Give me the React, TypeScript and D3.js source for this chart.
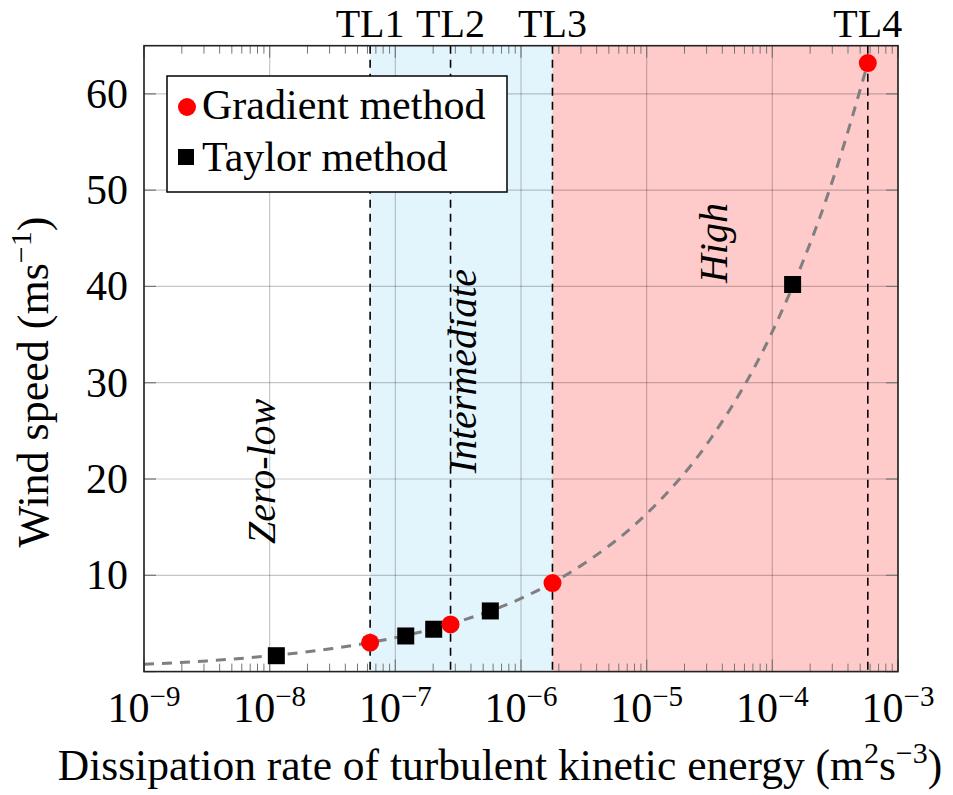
import React from "react";
import * as d3 from "d3";

// ---------- data ----------
const gradientEps = [6.3e-8, 2.75e-7, 1.78e-6, 5.75e-4];
const gradientSpeed = [3.0, 4.9, 9.2, 63.2];

const taylorEps = [1.13e-8, 1.21e-7, 2.02e-7, 5.7e-7, 1.45e-4];
const taylorSpeed = [1.65, 3.7, 4.4, 6.3, 40.2];

// dashed fitted curve
const fitEps = [1e-9, 3.16e-9, 1e-8, 3.16e-8, 1e-7, 3.16e-7, 1e-6, 3.16e-6, 1e-5, 3.16e-5, 1e-4, 3.16e-4, 5.75e-4];
const fitSpeed = [0.76, 1.11, 1.64, 2.4, 3.53, 5.18, 7.6, 11.2, 16.4, 24.0, 35.3, 51.8, 63.2];

const thresholdEps = [6.3e-8, 2.75e-7, 1.78e-6, 5.75e-4];
const thresholdLabels = ["TL1", "TL2", "TL3", "TL4"];

const regionNames = ["Zero-low", "Intermediate", "High"];
const regionStart = [1e-9, 6.3e-8, 1.78e-6];
const regionEnd = [6.3e-8, 1.78e-6, 1e-3];
const regionColors = ["none", "#e3f5fc", "#ffcaca"];
const regionLabelEps = [1.1e-8, 4.4e-7, 4.36e-5];
const regionLabelSpeed = [20.8, 31.2, 44.5];

const yTicks = [10, 20, 30, 40, 50, 60];
const xTickExponents = [-9, -8, -7, -6, -5, -4, -3];

const legendLabels = ["Gradient method", "Taylor method"];

// ---------- layout ----------
const W = 953;
const H = 795;
const left = 144;
const right = 898;
const top = 45.7;
const bottom = 671.6;
const FONT = "'Liberation Serif', 'Times New Roman', serif";

export default function App() {
  const x = d3.scaleLog().domain([1e-9, 1e-3]).range([left, right]);
  const y = d3.scaleLinear().domain([0, 65]).range([bottom, top]);

  const minorTicks: number[] = [];
  for (let e = -9; e < -3; e++) {
    for (let m = 2; m <= 9; m++) minorTicks.push(m * Math.pow(10, e));
  }

  const line = d3
    .line<number>()
    .x((_, i) => x(fitEps[i]))
    .y((d) => y(d))
    .curve(d3.curveMonotoneX);

  const gridColor = "rgba(0,0,0,0.22)";

  return (
    <svg
      width={W}
      height={H}
      style={{ position: "absolute", left: 0, top: 0, background: "#fff" }}
      fontFamily={FONT}
    >
      <defs>
        <clipPath id="plotclip">
          <rect x={left} y={top} width={right - left} height={bottom - top} />
        </clipPath>
      </defs>

      {/* region fills */}
      {regionNames.map((n, i) =>
        regionColors[i] === "none" ? null : (
          <rect
            key={n}
            x={x(regionStart[i])}
            y={top}
            width={x(regionEnd[i]) - x(regionStart[i])}
            height={bottom - top}
            fill={regionColors[i]}
          />
        )
      )}

      {/* grid */}
      {xTickExponents.map((e) => (
        <line
          key={"gx" + e}
          x1={x(Math.pow(10, e))}
          x2={x(Math.pow(10, e))}
          y1={top}
          y2={bottom}
          stroke={gridColor}
          strokeWidth={1.2}
        />
      ))}
      {yTicks.map((t) => (
        <line
          key={"gy" + t}
          x1={left}
          x2={right}
          y1={y(t)}
          y2={y(t)}
          stroke={gridColor}
          strokeWidth={1.2}
        />
      ))}

      {/* minor ticks on x axis (bottom and top) */}
      {minorTicks.map((t, i) => (
        <g key={"mt" + i}>
          <line x1={x(t)} x2={x(t)} y1={bottom} y2={bottom - 8} stroke="#777" strokeWidth={1} />
          <line x1={x(t)} x2={x(t)} y1={top} y2={top + 8} stroke="#777" strokeWidth={1} />
        </g>
      ))}
      {/* major ticks */}
      {xTickExponents.map((e) => (
        <g key={"Mx" + e}>
          <line x1={x(Math.pow(10, e))} x2={x(Math.pow(10, e))} y1={bottom} y2={bottom - 12} stroke="#777" strokeWidth={1.2} />
          <line x1={x(Math.pow(10, e))} x2={x(Math.pow(10, e))} y1={top} y2={top + 12} stroke="#777" strokeWidth={1.2} />
        </g>
      ))}
      {[0, ...yTicks].map((t) => (
        <g key={"My" + t}>
          <line x1={left} x2={left + 12} y1={y(t)} y2={y(t)} stroke="#777" strokeWidth={1.2} />
          <line x1={right} x2={right - 12} y1={y(t)} y2={y(t)} stroke="#777" strokeWidth={1.2} />
        </g>
      ))}

      {/* threshold lines */}
      {thresholdEps.map((t, i) => (
        <line
          key={"tl" + i}
          x1={x(t)}
          x2={x(t)}
          y1={top}
          y2={bottom}
          stroke="#000"
          strokeWidth={1.6}
          strokeDasharray="8,6"
        />
      ))}

      {/* fitted curve */}
      <g clipPath="url(#plotclip)">
        <path
          d={line(fitSpeed) || ""}
          fill="none"
          stroke="#7f7f7f"
          strokeWidth={3}
          strokeDasharray="10,8"
        />
      </g>

      {/* region labels */}
      {regionNames.map((n, i) => {
        const cx = x(regionLabelEps[i]);
        const cy = y(regionLabelSpeed[i]);
        return (
          <text
            key={"rl" + n}
            transform={`translate(${cx},${cy}) rotate(-90)`}
            textAnchor="middle"
            fontStyle="italic"
            fontSize={40}
            fill="#000"
          >
            {n}
          </text>
        );
      })}

      {/* markers */}
      {taylorEps.map((e, i) => (
        <rect
          key={"ts" + i}
          x={x(e) - 8.5}
          y={y(taylorSpeed[i]) - 8.5}
          width={17}
          height={17}
          fill="#000"
        />
      ))}
      {gradientEps.map((e, i) => (
        <circle key={"gp" + i} cx={x(e)} cy={y(gradientSpeed[i])} r={9} fill="#ff0000" />
      ))}

      {/* axis frame */}
      <rect
        x={left}
        y={top}
        width={right - left}
        height={bottom - top}
        fill="none"
        stroke="#222"
        strokeWidth={1.6}
      />

      {/* threshold labels */}
      {thresholdEps.map((t, i) => (
        <text key={"tlt" + i} x={x(t)} y={37} textAnchor="middle" fontSize={40} fill="#000">
          {thresholdLabels[i]}
        </text>
      ))}

      {/* x tick labels */}
      {xTickExponents.map((e) => (
        <text key={"xl" + e} x={x(Math.pow(10, e))} y={722} textAnchor="middle" fontSize={42} fill="#000">
          <tspan>10</tspan>
          <tspan fontSize={29} dy={-16}>
            {"\u2212" + Math.abs(e)}
          </tspan>
        </text>
      ))}

      {/* y tick labels */}
      {yTicks.map((t) => (
        <text key={"yl" + t} x={128} y={y(t) + 14} textAnchor="end" fontSize={42} fill="#000">
          {t}
        </text>
      ))}

      {/* axis labels */}
      <text x={500} y={780} textAnchor="middle" fontSize={43.5} fill="#000">
        <tspan>Dissipation rate of turbulent kinetic energy (m</tspan>
        <tspan fontSize={30} dy={-17}>2</tspan>
        <tspan dy={17}>s</tspan>
        <tspan fontSize={30} dy={-17}>{"\u22123"}</tspan>
        <tspan dy={17}>)</tspan>
      </text>
      <text transform="translate(48,382) rotate(-90)" textAnchor="middle" fontSize={44} fill="#000">
        <tspan>Wind speed (ms</tspan>
        <tspan fontSize={30} dy={-17}>{"\u22121"}</tspan>
        <tspan dy={17}>)</tspan>
      </text>

      {/* legend */}
      <g>
        <rect x={167} y={76} width={340} height={116} fill="#fff" stroke="#000" strokeWidth={1.5} />
        <circle cx={187} cy={107} r={9} fill="#ff0000" />
        <text x={202} y={119} fontSize={42} fill="#000">
          {legendLabels[0]}
        </text>
        <rect x={178} y={149} width={16} height={16} fill="#000" />
        <text x={202} y={171} fontSize={42} fill="#000">
          {legendLabels[1]}
        </text>
      </g>
    </svg>
  );
}
